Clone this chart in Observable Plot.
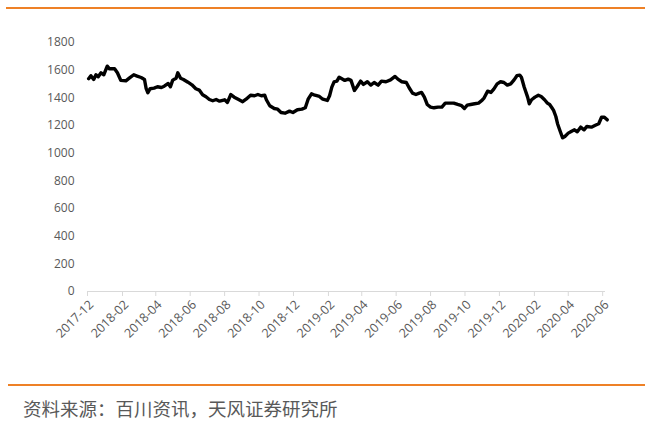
<!DOCTYPE html>
<html>
<head>
<meta charset="utf-8">
<script src="https://cdn.jsdelivr.net/npm/d3@7"></script>
<script src="https://cdn.jsdelivr.net/npm/@observablehq/plot@0.6"></script>
<style>
  html, body { margin: 0; padding: 0; background: #fff; }
  body { width: 656px; height: 431px; position: relative; overflow: hidden; }
  .rule { position: absolute; background: #EE8126; height: 2px; }
  #chart { position: absolute; left: 0; top: 0; }
  #caption { position: absolute; left: 23px; top: 395px; font-family: "Noto Sans CJK SC", sans-serif; font-size: 18.5px; color: #595959; white-space: nowrap; }
</style>
</head>
<body>
<div class="rule" style="left:6px; top:7px; width:639px;"></div>
<div id="chart"></div>
<div class="rule" style="left:8px; top:384px; width:637px;"></div>
<div id="caption">资料来源：百川资讯，天风证券研究所</div>
<script>
const dates = [
  "2017-12-03","2017-12-07","2017-12-12","2017-12-16","2017-12-20","2017-12-25","2017-12-30",
  "2018-01-05","2018-01-09","2018-01-18","2018-01-23","2018-01-29",
  "2018-02-07","2018-02-13","2018-02-21","2018-02-27",
  "2018-03-06","2018-03-12","2018-03-15","2018-03-18","2018-03-22","2018-03-29",
  "2018-04-04","2018-04-11","2018-04-16","2018-04-23","2018-04-27",
  "2018-05-01","2018-05-07","2018-05-10","2018-05-15","2018-05-20","2018-05-28",
  "2018-06-04","2018-06-11","2018-06-17","2018-06-23","2018-06-29",
  "2018-07-05","2018-07-11","2018-07-17","2018-07-23",
  "2018-08-01","2018-08-06","2018-08-12","2018-08-18","2018-08-25",
  "2018-09-02","2018-09-08","2018-09-16","2018-09-23","2018-09-29",
  "2018-10-05","2018-10-11","2018-10-14","2018-10-20","2018-10-28",
  "2018-11-03","2018-11-09","2018-11-16","2018-11-24","2018-11-30",
  "2018-12-08","2018-12-16","2018-12-22","2018-12-27",
  "2019-01-02","2019-01-08","2019-01-16","2019-01-22","2019-01-30",
  "2019-02-03","2019-02-07","2019-02-11","2019-02-16","2019-02-20","2019-02-24",
  "2019-03-02","2019-03-08","2019-03-13","2019-03-19","2019-03-24","2019-03-30",
  "2019-04-04","2019-04-11","2019-04-17","2019-04-23","2019-04-30",
  "2019-05-06","2019-05-14","2019-05-22","2019-05-30",
  "2019-06-04","2019-06-11","2019-06-19","2019-06-24","2019-06-30",
  "2019-07-06","2019-07-12","2019-07-16","2019-07-21","2019-07-26",
  "2019-08-01","2019-08-07","2019-08-14","2019-08-21","2019-08-27",
  "2019-09-03","2019-09-11","2019-09-18","2019-09-25","2019-09-30",
  "2019-10-05","2019-10-11","2019-10-18","2019-10-25","2019-10-31",
  "2019-11-04","2019-11-10","2019-11-16","2019-11-21","2019-11-27",
  "2019-12-03","2019-12-09","2019-12-15","2019-12-21","2019-12-27",
  "2020-01-01","2020-01-06","2020-01-09","2020-01-14","2020-01-20","2020-01-23","2020-01-27",
  "2020-02-02","2020-02-08","2020-02-13","2020-02-19","2020-02-24","2020-02-28",
  "2020-03-03","2020-03-06","2020-03-10","2020-03-13","2020-03-18","2020-03-22","2020-03-26",
  "2020-04-01","2020-04-07","2020-04-12","2020-04-17","2020-04-23","2020-04-29",
  "2020-05-04","2020-05-12","2020-05-19","2020-05-25","2020-05-30",
  "2020-06-04","2020-06-09"
];
const prices = [
  1538,1560,1533,1567,1552,1581,1567,
  1629,1610,1610,1581,1526,
  1523,1542,1567,1557,
  1547,1533,1466,1437,1466,1470,
  1480,1475,1484,1504,1480,
  1528,1542,1581,1542,1533,1513,
  1494,1466,1456,1422,1408,
  1388,1379,1388,1376,
  1386,1367,1424,1405,1390,
  1372,1390,1419,1415,1424,
  1415,1419,1386,1343,1323,
  1318,1294,1289,1304,1294,
  1314,1318,1328,1390,
  1429,1419,1410,1390,1381,
  1415,1477,1516,1521,1549,1540,
  1526,1535,1526,1453,1482,1521,
  1497,1516,1492,1511,1492,
  1521,1516,1530,1555,
  1535,1516,1511,1473,1434,
  1424,1434,1439,1405,1352,
  1333,1328,1333,1333,1362,
  1362,1362,1352,1343,1323,
  1347,1352,1357,1362,1381,
  1400,1448,1439,1463,1501,
  1516,1511,1492,1501,1530,
  1560,1564,1549,1477,1405,1357,1386,
  1405,1419,1410,1386,1362,1352,
  1328,1309,1265,1213,1155,1111,1121,
  1145,1159,1169,1155,1188,1169,
  1193,1188,1202,1213,1260,
  1260,1241
];
const xTickLabels = ["2017-12","2018-02","2018-04","2018-06","2018-08","2018-10","2018-12","2019-02","2019-04","2019-06","2019-08","2019-10","2019-12","2020-02","2020-04","2020-06"];
const yTicks = [0,200,400,600,800,1000,1200,1400,1600,1800];
const sourceText = "资料来源：百川资讯，天风证券研究所";

const parseDay = d3.utcParse("%Y-%m-%d");
const parseMonth = d3.utcParse("%Y-%m");
const data = dates.map((d, i) => ({date: parseDay(d), value: prices[i]}));
const xTicks = xTickLabels.map(parseMonth);

const chart = Plot.plot({
  width: 656,
  height: 375,
  marginTop: 42,
  marginBottom: 84,
  marginLeft: 87,
  marginRight: 51,
  style: {fontFamily: "'Open Sans', sans-serif", fontSize: "12px", color: "#595959", background: "transparent"},
  x: {type: "utc", domain: [parseMonth("2017-12"), parseDay("2020-06-06")]},
  y: {domain: [0, 1800]},
  marks: [
    Plot.axisY({ticks: yTicks, tickFormat: d3.format("d"), tickSize: 0, tickPadding: 13, label: null, fill: "#595959"}),
    Plot.axisX({ticks: xTicks, tickFormat: null, text: null, tickSize: 5, stroke: "#d9d9d9", label: null}),
    Plot.axisX({ticks: xTicks, tickFormat: d3.utcFormat("%Y-%m"), tickSize: 0, tickRotate: -45, tickPadding: 3, dx: 4, dy: 8, fontSize: 12.5, label: null, fill: "#595959"}),
    Plot.ruleY([0], {stroke: "#d9d9d9", strokeWidth: 1.2}),
    Plot.line(data, {x: "date", y: "value", stroke: "#000", strokeWidth: 3.4, strokeLinejoin: "round", strokeLinecap: "round"})
  ]
});
document.getElementById("chart").appendChild(chart);
document.getElementById("caption").textContent = sourceText;
</script>
</body>
</html>
